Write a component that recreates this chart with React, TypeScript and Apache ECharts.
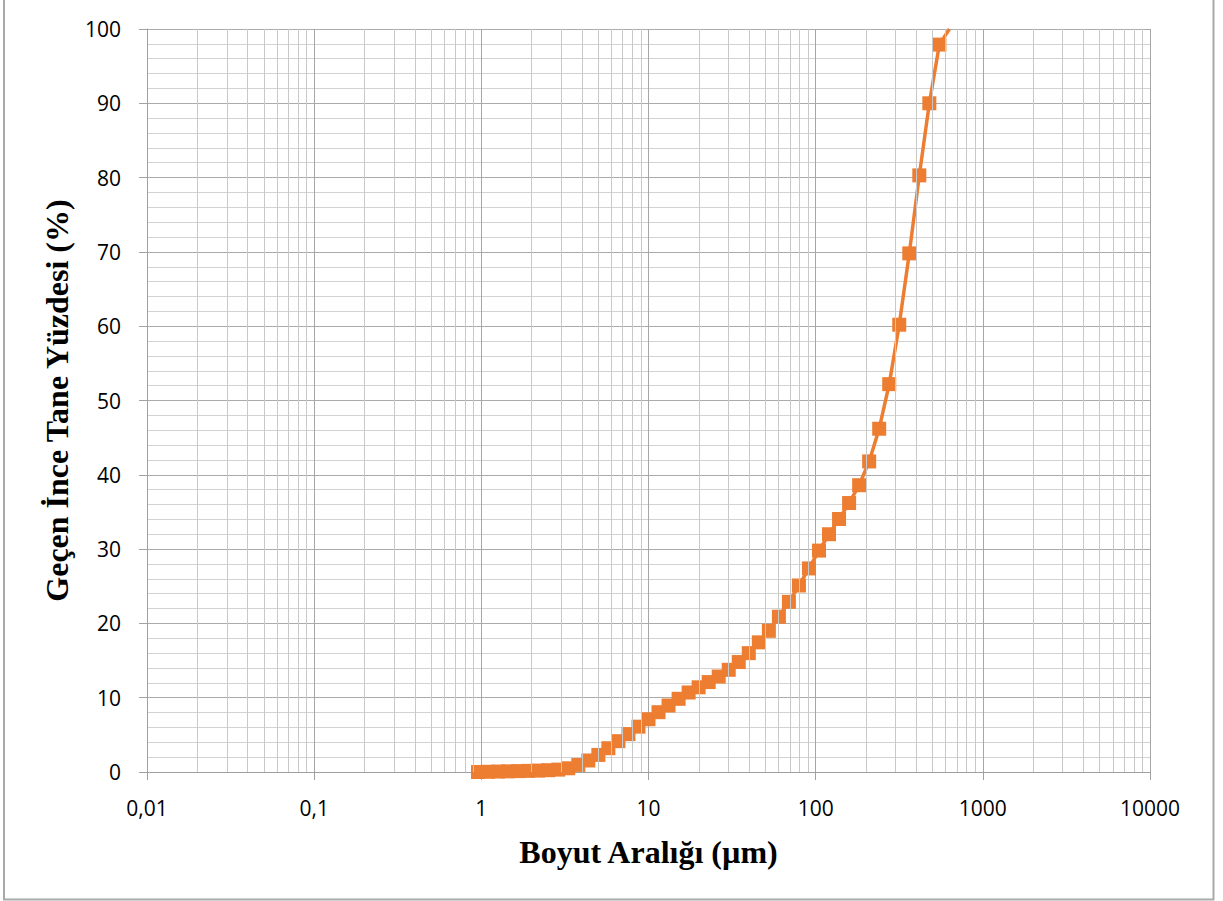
import React, { useEffect, useRef } from "react";
import * as echarts from "echarts";

// Particle size classes (µm)
const sizes: number[] = [
  0.955, 1.096, 1.259, 1.445, 1.66, 1.905, 2.188, 2.512, 2.884, 3.311, 3.802,
  4.365, 5.012, 5.754, 6.607, 7.586, 8.71, 10.0, 11.48, 13.18, 15.14, 17.38,
  19.95, 22.91, 26.3, 30.2, 34.67, 39.81, 45.71, 52.48, 60.26, 69.18, 79.43,
  91.2, 104.7, 120.2, 138.0, 158.5, 182.0, 208.9, 239.9, 275.4, 316.2, 363.1,
  416.9, 478.6, 549.5, 631.0,
];

// Cumulative passing percentage (%)
const passing: number[] = [
  0.0, 0.03, 0.06, 0.09, 0.12, 0.15, 0.19, 0.24, 0.32, 0.5, 0.95,
  1.55, 2.3, 3.2, 4.15, 5.1, 6.1, 7.1, 8.05, 8.95, 9.85, 10.7,
  11.4, 12.1, 12.85, 13.75, 14.8, 16.0, 17.45, 19.0, 20.9, 22.9, 25.1,
  27.4, 29.8, 32.0, 34.05, 36.2, 38.6, 41.8, 46.2, 52.2, 60.2, 69.8,
  80.3, 90.0, 97.9, 100.0,
];

const xTickLabels: string[] = ["0,01", "0,1", "1", "10", "100", "1000", "10000"];
const yTicks: number[] = [0, 10, 20, 30, 40, 50, 60, 70, 80, 90, 100];

const xTitle = "Boyut Aralığı (µm)";
const yTitle = "Geçen İnce Tane Yüzdesi (%)";

export default function App() {
  const ref = useRef<HTMLDivElement>(null);

  useEffect(() => {
    if (!ref.current) return;
    const chart = echarts.init(ref.current, undefined, { renderer: "svg" });

    // minor log grid lines: 2..9 within each decade
    const minorLines: { xAxis: number }[] = [];
    for (let e = -2; e < 4; e++) {
      for (let m = 2; m <= 9; m++) {
        minorLines.push({ xAxis: m * Math.pow(10, e) });
      }
    }

    const data = sizes.map((s, i) => {
      const item: any = { value: [s, passing[i]] };
      if (i === sizes.length - 1) item.symbol = "none";
      return item;
    });

    chart.setOption({
      animation: false,
      backgroundColor: "#ffffff",
      grid: { left: 147, right: 73, top: 29, bottom: 129, containLabel: false },
      xAxis: {
        type: "log",
        logBase: 10,
        min: 0.01,
        max: 10000,
        splitNumber: 6,
        name: xTitle,
        nameLocation: "middle",
        nameGap: 64,
        nameTextStyle: {
          fontFamily: "Liberation Serif",
          fontWeight: "bold",
          fontSize: 32,
          color: "#000",
        },
        axisLine: { show: true, lineStyle: { color: "#a0a0a0", width: 1 } },
        axisTick: { show: true, length: 8, lineStyle: { color: "#a0a0a0" } },
        axisLabel: {
          margin: 25,
          fontFamily: "Open Sans",
          fontSize: 21,
          color: "#000",
          formatter: (v: number) => {
            const e = Math.round(Math.log10(v));
            return xTickLabels[e + 2] ?? "";
          },
        },
        splitLine: { show: true, lineStyle: { color: "#a6a6a6", width: 1 } },
        minorTick: { show: false },
        minorSplitLine: { show: false },
      },
      yAxis: {
        type: "value",
        min: 0,
        max: 100,
        interval: 10,
        name: yTitle,
        nameLocation: "middle",
        nameGap: 74,
        nameRotate: 90,
        nameTextStyle: {
          fontFamily: "Liberation Serif",
          fontWeight: "bold",
          fontSize: 32,
          color: "#000",
        },
        axisLine: { show: true, lineStyle: { color: "#a0a0a0", width: 1 } },
        axisTick: { show: true, length: 8, lineStyle: { color: "#a0a0a0" } },
        axisLabel: {
          margin: 26,
          fontFamily: "Open Sans",
          fontSize: 21,
          color: "#000",
          formatter: (v: number) => (yTicks.includes(v) ? String(v) : ""),
        },
        splitLine: { show: true, lineStyle: { color: "#ababab", width: 1 } },
        minorTick: { show: false, splitNumber: 5 },
        minorSplitLine: { show: true, lineStyle: { color: "#d2d2d2", width: 1 } },
      },
      graphic: [
        {
          type: "rect",
          z: 100,
          silent: true,
          shape: { x: 4, y: -5, width: 1209.5, height: 904.5 },
          style: { fill: "none", stroke: "#a9a9a9", lineWidth: 2 },
        },
      ],
      series: [
        {
          type: "line",
          data: [],
          z: 1,
          silent: true,
          markLine: {
            silent: true,
            symbol: ["none", "none"],
            label: { show: false },
            animation: false,
            lineStyle: { color: "#c8c8c8", width: 1, type: "solid" },
            emphasis: { disabled: true },
            data: minorLines,
          },
        },
        {
          type: "line",
          z: 3,
          data,
          symbol: "rect",
          symbolSize: 14,
          clip: true,
          lineStyle: { color: "#ED7D31", width: 3.5 },
          itemStyle: { color: "#ED7D31" },
        },
      ],
    });

    return () => chart.dispose();
  }, []);

  return (
    <div
      ref={ref}
      style={{ position: "fixed", left: 0, top: 0, width: 1223, height: 901 }}
    />
  );
}
